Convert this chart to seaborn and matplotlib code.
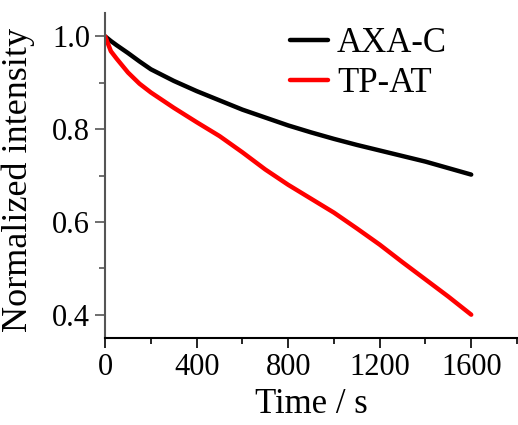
import matplotlib
matplotlib.use("Agg")
import matplotlib.pyplot as plt
from matplotlib.ticker import MultipleLocator
import seaborn as sns
import pandas as pd

# values
time_s = [0, 25, 50, 100, 150, 200, 300, 400, 500, 600, 700, 800,
          900, 1000, 1100, 1200, 1300, 1400, 1500, 1600]
axa_c = [1.0, 0.99, 0.981, 0.964, 0.946, 0.929, 0.904, 0.882, 0.862, 0.842, 0.825, 0.808,
         0.793, 0.779, 0.766, 0.754, 0.742, 0.730, 0.716, 0.702]
tp_at = [1.0, 0.968, 0.952, 0.922, 0.898, 0.879, 0.846, 0.815, 0.785, 0.750, 0.713, 0.68,
         0.65, 0.62, 0.586, 0.551, 0.513, 0.476, 0.439, 0.40]
samples = ["AXA-C", "TP-AT"]
colors = ["black", "#ff0000"]

df = pd.concat([
    pd.DataFrame({"Time": time_s, "Intensity": axa_c, "Sample": samples[0]}),
    pd.DataFrame({"Time": time_s, "Intensity": tp_at, "Sample": samples[1]}),
])

sns.set_theme(style="ticks")
plt.rcParams["font.family"] = ["Liberation Serif", "DejaVu Serif"]
plt.rcParams["text.color"] = "black"
plt.rcParams["axes.labelcolor"] = "black"
plt.rcParams["xtick.color"] = "black"
plt.rcParams["ytick.color"] = "black"

fig = plt.figure(figsize=(5.18, 4.25), dpi=100)
ax = fig.add_axes([0.203, 0.205, 0.795, 0.764])

sns.lineplot(data=df, x="Time", y="Intensity", hue="Sample",
             palette=dict(zip(samples, colors)), linewidth=3.2, ax=ax,
             solid_capstyle="round")

ax.set_xlim(0, 1800)
ax.set_ylim(0.35, 1.05)
ax.xaxis.set_minor_locator(MultipleLocator(200))
ax.yaxis.set_minor_locator(MultipleLocator(0.1))
ax.set_xticks([0, 400, 800, 1200, 1600])
ax.set_xticklabels(["0", "400", "800", "1200", "1600"])
ax.set_yticks([0.4, 0.6, 0.8, 1.0])
ax.set_yticklabels(["0.4", "0.6", "0.8", "1.0"])

ax.tick_params(which="major", direction="out", length=7, width=1.2, labelsize=22, pad=4)
ax.tick_params(which="minor", direction="out", length=4, width=1.2)
ax.tick_params(axis="y", which="both", color="#555555")

for s in ["top", "right"]:
    ax.spines[s].set_visible(False)
ax.spines["left"].set_color("#555555")
ax.spines["left"].set_linewidth(1.5)
ax.spines["bottom"].set_color("black")
ax.spines["bottom"].set_linewidth(1.5)

ax.set_xlabel("Time / s", fontsize=25, labelpad=4)
ax.set_ylabel("Normalized intensity", fontsize=26, labelpad=0)
ax.yaxis.set_label_coords(-0.17, 0.486)

ax.legend(loc="upper left", bbox_to_anchor=(290 / 518, 1 - 27 / 425),
          bbox_transform=fig.transFigure, frameon=False, fontsize=25,
          handlelength=1.1, handletextpad=0.25, labelspacing=0.2,
          borderpad=0, borderaxespad=0, title=None)

fig.savefig("out.png", dpi=100)
